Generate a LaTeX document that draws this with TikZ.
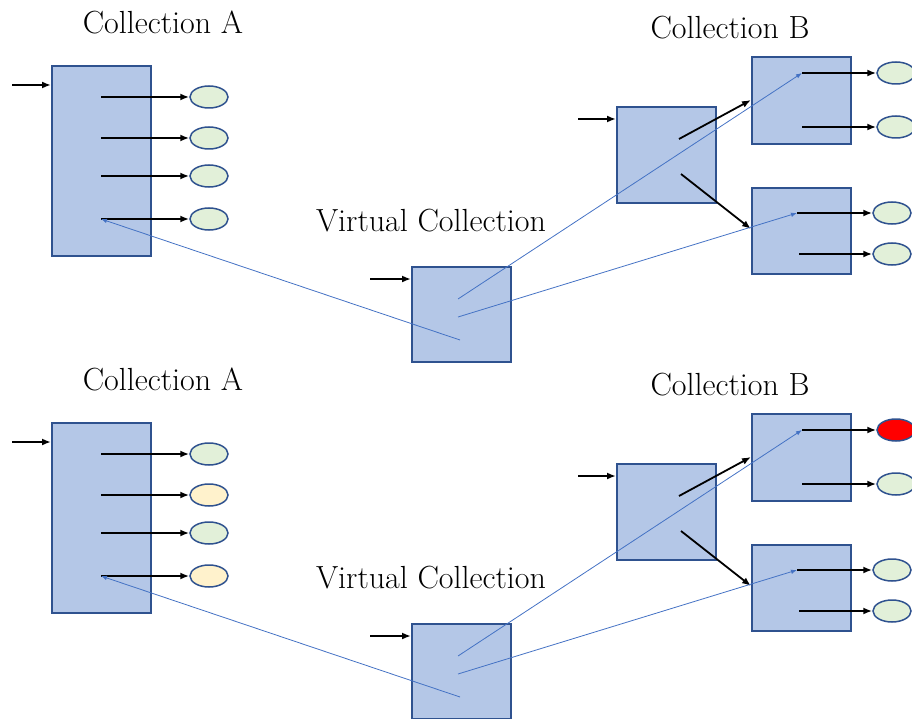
\documentclass[tikz,border=0pt]{standalone}
\usetikzlibrary{arrows.meta,shapes.geometric}
\definecolor{boxfill}{HTML}{B4C7E7}
\definecolor{boxline}{HTML}{2F528F}
\definecolor{okfill}{HTML}{E2F0D9}
\definecolor{waitfill}{HTML}{FFF2CC}
\definecolor{badfill}{HTML}{FF0000}
\definecolor{linkblue}{HTML}{4472C4}
\tikzset{
  store/.style={draw=boxline, fill=boxfill, line width=1.6pt, inner sep=0pt, anchor=north west, minimum width=99pt},
  item/.style={ellipse, draw=boxline, line width=1.5pt, inner sep=0pt, minimum width=38pt, minimum height=22pt},
  push/.style={line width=1.8pt, -{Latex[length=9pt,width=7pt]}},
  link/.style={linkblue, line width=0.8pt, -{Latex[length=6pt,width=4.5pt]}},
  title/.style={font=\fontsize{32}{36}\selectfont}
}
\begin{document}
\begin{tikzpicture}[x=1pt, y=-1pt]
\useasboundingbox (0,0) rectangle (912,719);
\foreach \h/\dy/\cw/\cr in {t/0/okfill/okfill, b/357/waitfill/badfill} {
\begin{scope}[yshift=-\dy pt]
% collection A
\node[title] (\h tA) at (163,22) {Collection A};
\node[store, minimum height=190pt] (\h A) at (51,65) {};
\coordinate (\h inA) at (12,85);
\draw[push] (\h inA) -- (\h inA -| \h A.west);
\node[item, fill=okfill] (\h a1) at (209,97) {};
\node[item, fill=\cw] (\h a2) at (209,138) {};
\node[item, fill=okfill] (\h a3) at (209,176) {};
\node[item, fill=\cw] (\h a4) at (209,219) {};
\coordinate (\h sa1) at (101,97);
\coordinate (\h sa2) at (101,138);
\coordinate (\h sa3) at (101,176);
\coordinate (\h sa4) at (101,219);
\draw[push] (\h sa1) -- (\h a1);
\draw[push] (\h sa2) -- (\h a2);
\draw[push] (\h sa3) -- (\h a3);
\draw[push] (\h sa4) -- (\h a4);
% virtual collection
\node[title] (\h tV) at (431,221) {Virtual Collection};
\node[store, minimum height=95pt] (\h V) at (411,266) {};
\coordinate (\h inV) at (370,279);
\draw[push] (\h inV) -- (\h inV -| \h V.west);
\coordinate (\h v1) at (458,299);
\coordinate (\h v2) at (458,317);
\coordinate (\h v3) at (460,340);
% collection B
\node[title] (\h tB) at (730,28) {Collection B};
\node[store, minimum height=96pt] (\h B) at (616,106) {};
\coordinate (\h inB) at (578,119);
\draw[push] (\h inB) -- (\h inB -| \h B.west);
\node[store, minimum height=87pt] (\h B1) at (751,56) {};
\node[store, minimum height=86pt] (\h B2) at (751,187) {};
\coordinate (\h sb1) at (679,139);
\coordinate (\h sb2) at (681,174);
\coordinate (\h tb1) at (751,100);
\coordinate (\h tb2) at (751,229);
\draw[push] (\h sb1) -- (\h tb1);
\draw[push] (\h sb2) -- (\h tb2);
\node[item, fill=\cr] (\h b1) at (896,73) {};
\node[item, fill=okfill] (\h b2) at (896,127) {};
\node[item, fill=okfill] (\h b3) at (892,213) {};
\node[item, fill=okfill] (\h b4) at (892,254) {};
\coordinate (\h sc1) at (802,73);
\coordinate (\h sc2) at (802,127);
\coordinate (\h sc3) at (797,213);
\coordinate (\h sc4) at (799,254);
\draw[push] (\h sc1) -- (\h b1);
\draw[push] (\h sc2) -- (\h b2);
\draw[push] (\h sc3) -- (\h b3);
\draw[push] (\h sc4) -- (\h b4);
% links of the virtual collection
\draw[link] (\h v1) -- (\h sc1);
\draw[link] (\h v2) -- (\h sc3);
\draw[link] (\h v3) -- (\h sa4);
\end{scope}
}
\end{tikzpicture}
\end{document}
